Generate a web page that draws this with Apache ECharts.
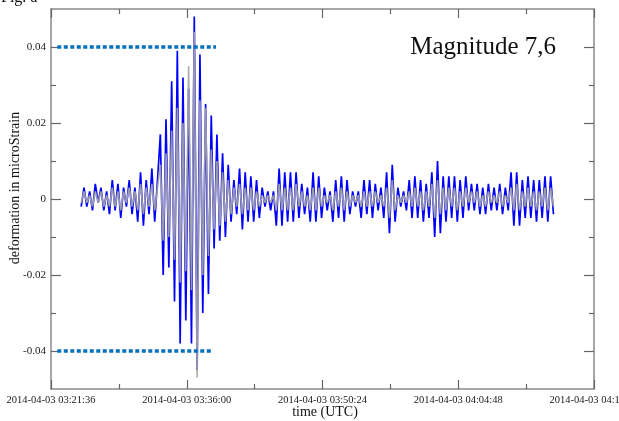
<!DOCTYPE html>
<html><head><meta charset="utf-8">
<script src="https://cdn.jsdelivr.net/npm/echarts@6/dist/echarts.min.js"></script>
<style>html,body{margin:0;padding:0;background:#fff}#c{width:619px;height:421px}</style>
</head><body><div id="c"></div>
<script>
// Time axis: seconds since 2014-04-03 03:21:36 UTC
const axisStartUTC = [2014, 3, 3, 3, 21, 36];
const axisSpanSeconds = 3456;
const tickStepSeconds = 864;
const sampleStartSeconds = 192;
const sampleStepSeconds = 18;

// deformation in microStrain
const blueStrain = [
 -0.002, 0.003, -0.002, 0.002, -0.003, 0.004, -0.001, 0.003, -0.003, 0.002,
 -0.004, 0.005, -0.003, 0.004, -0.005, 0.003, -0.002, 0.005, -0.004, 0.003,
 -0.006, 0.007, -0.007, 0.005, -0.004, 0.008, -0.006, 0.005,
 0.017, -0.020, 0.021, -0.018, 0.031, -0.027, 0.039, -0.038, 0.032, -0.032,
 0.029, -0.038, 0.048, -0.045, 0.038, -0.030, 0.025, -0.025, 0.022, -0.013,
 0.017, -0.011, 0.012, -0.010, 0.009, -0.006, 0.005, -0.004,
 0.008, -0.008, 0.007, -0.006, 0.006, -0.006, 0.005, -0.005,
 0.003, -0.002, 0.002, -0.003, 0.002,
 -0.007, 0.008, -0.007, 0.007,
 -0.006, 0.007, -0.006, 0.007, -0.005,
 0.004, -0.004, 0.003,
 -0.006, 0.007, -0.006, 0.006, -0.005,
 0.003, -0.003, 0.002,
 -0.006, 0.005, -0.005, 0.006, -0.006, 0.005, -0.004,
 0.002, -0.002, 0.002,
 -0.005, 0.005, -0.004, 0.005, -0.005, 0.004,
 -0.003, 0.003,
 -0.005, 0.007, -0.009, 0.009, -0.006,
 0.003, -0.002, 0.002, -0.003,
 0.005, -0.005, 0.006, -0.005, 0.005, -0.006, 0.004,
 -0.005, 0.007, -0.010, 0.010, -0.009,
 0.006, -0.006, 0.006, -0.005, 0.006, -0.006, 0.005, -0.005, 0.006,
 -0.003, 0.004, -0.003, 0.004, -0.004, 0.003, -0.004, 0.004, -0.003, 0.003,
 -0.003, 0.004, -0.004, 0.003, -0.003,
 0.007, -0.007, 0.007, -0.007,
 0.005, -0.005, 0.006, -0.005, 0.005, -0.006, 0.005,
 -0.005, 0.006, -0.006, 0.006, -0.004
];
const grayStrain = [
 -0.001, 0.002, -0.001, 0.001, -0.002, 0.002, -0.001, 0.002, -0.002, 0.001,
 -0.002, 0.003, -0.002, 0.002, -0.003, 0.002, -0.001, 0.003, -0.002, 0.002,
 -0.003, 0.004, -0.004, 0.003, -0.002, 0.004, -0.003, 0.003,
 0.009, -0.011, 0.012, -0.010, 0.018, -0.016, 0.024, -0.022, 0.020, -0.019,
 0.035, -0.024, 0.044, -0.047, 0.026, -0.020, 0.024, -0.015, 0.013, -0.008,
 0.010, -0.007, 0.007, -0.006, 0.005, -0.004, 0.003, -0.002,
 0.004, -0.004, 0.003, -0.003, 0.003, -0.003, 0.002, -0.002,
 0.001, -0.001, 0.001, -0.001, 0.001,
 -0.003, 0.004, -0.003, 0.003,
 -0.003, 0.003, -0.003, 0.004, -0.002,
 0.002, -0.002, 0.001,
 -0.003, 0.003, -0.003, 0.003, -0.002,
 0.001, -0.001, 0.001,
 -0.003, 0.002, -0.002, 0.003, -0.003, 0.002, -0.002,
 0.001, -0.001, 0.001,
 -0.002, 0.002, -0.002, 0.002, -0.002, 0.002,
 -0.001, 0.001,
 -0.002, 0.003, -0.005, 0.005, -0.003,
 0.001, -0.001, 0.001, -0.001,
 0.002, -0.002, 0.003, -0.002, 0.002, -0.003, 0.002,
 -0.002, 0.004, -0.005, 0.005, -0.004,
 0.003, -0.003, 0.003, -0.002, 0.003, -0.003, 0.002, -0.002, 0.003,
 -0.001, 0.002, -0.001, 0.002, -0.002, 0.001, -0.002, 0.002, -0.001, 0.001,
 -0.001, 0.002, -0.002, 0.001, -0.001,
 0.003, -0.003, 0.004, -0.003,
 0.002, -0.002, 0.003, -0.002, 0.002, -0.003, 0.002,
 -0.002, 0.003, -0.003, 0.003, -0.002
];

const yMajorTicks = [-0.04, -0.02, 0, 0.02, 0.04];
const yMinorTicks = [-0.03, -0.01, 0.01, 0.03];
const thresholdValues = [0.04, -0.04];
const thresholdSpans = [[40, 1050], [40, 1031]];
const annotationText = 'Magnitude 7,6';
const figureTag = 'Fig. a';
const yAxisTitle = 'deformation in microStrain';
const xAxisTitle = 'time (UTC)';

const serif = 'Liberation Serif';
const axisColor = '#8a8a8a';
const baseMs = Date.UTC(axisStartUTC[0], axisStartUTC[1], axisStartUTC[2], axisStartUTC[3], axisStartUTC[4], axisStartUTC[5]);
const pad = n => String(n).padStart(2, '0');
function fmtTime(v) {
  const d = new Date(baseMs + v * 1000);
  return d.getUTCFullYear() + '-' + pad(d.getUTCMonth() + 1) + '-' + pad(d.getUTCDate()) + ' ' +
    pad(d.getUTCHours()) + ':' + pad(d.getUTCMinutes()) + ':' + pad(d.getUTCSeconds());
}
const toSeries = arr => arr.map((v, i) => [sampleStartSeconds + i * sampleStepSeconds, v]);

const lineStyleAxis = { color: axisColor, width: 1.5 };
function xAx(pos, labels) {
  return {
    type: 'value', position: pos, min: 0, max: axisSpanSeconds, interval: tickStepSeconds,
    axisLine: { show: true, onZero: false, lineStyle: lineStyleAxis },
    axisTick: { show: true, inside: true, length: 9, lineStyle: { color: '#666', width: 1.2 } },
    minorTick: { show: true, splitNumber: 2, length: 5, lineStyle: { color: '#666', width: 1.2 } },
    splitLine: { show: false }, minorSplitLine: { show: false },
    axisLabel: labels ? { show: true, formatter: fmtTime, fontFamily: serif, fontSize: 10.5, color: '#1a1a1a', margin: 6, showMinLabel: true, showMaxLabel: true, hideOverlap: false } : { show: false }
  };
}
function yAx(pos, major, labels) {
  return {
    type: 'value', position: pos, min: -0.05, max: 0.05,
    axisLine: { show: major, onZero: false, lineStyle: lineStyleAxis },
    axisTick: { show: true, inside: true, length: major ? 10 : 5, customValues: major ? yMajorTicks : yMinorTicks, lineStyle: { color: '#666', width: 1.2 } },
    splitLine: { show: false },
    axisLabel: labels ? { show: true, customValues: yMajorTicks, formatter: v => v === 0 ? '0' : v.toFixed(2), fontFamily: serif, fontSize: 11, color: '#1a1a1a', margin: 5 } : { show: false }
  };
}

const chart = echarts.init(document.getElementById('c'), null, { renderer: 'canvas' });
chart.setOption({
  animation: false,
  backgroundColor: '#fff',
  grid: { left: 51, right: 25, top: 9, bottom: 32, containLabel: false, outerBoundsMode: 'none' },
  xAxis: [xAx('bottom', true), xAx('top', false)],
  yAxis: [yAx('left', true, true), yAx('left', false, false), yAx('right', true, false), yAx('right', false, false)],
  graphic: [
    { type: 'text', left: 1, top: -10, style: { text: figureTag, font: '16px "Liberation Serif"', fill: '#111' } },
    { type: 'text', right: 63, top: 35, style: { text: annotationText, font: '25px "Liberation Serif"', fill: '#111' } },
    { type: 'text', x: 15, y: 188, rotation: Math.PI / 2,
      style: { text: yAxisTitle, font: '14px "Liberation Serif"', fill: '#111', align: 'center', verticalAlign: 'middle' } },
    { type: 'text', x: 325, y: 412,
      style: { text: xAxisTitle, font: '14px "Liberation Serif"', fill: '#111', align: 'center', verticalAlign: 'middle' } }
  ],
  series: [
    { type: 'line', xAxisIndex: 0, yAxisIndex: 0, data: toSeries(blueStrain), showSymbol: false, symbol: 'none',
      lineStyle: { color: '#0000ff', width: 1.7 }, z: 2 },
    { type: 'line', xAxisIndex: 0, yAxisIndex: 0, data: toSeries(grayStrain), showSymbol: false, symbol: 'none',
      lineStyle: { color: '#a5a5a5', width: 1.6, opacity: 0.9 }, z: 3 },
    ...thresholdValues.map((t, k) => ({
      type: 'line', xAxisIndex: 0, yAxisIndex: 0, showSymbol: false, symbol: 'none',
      data: [[thresholdSpans[k][0], t], [thresholdSpans[k][1], t]],
      lineStyle: { color: '#0070c0', width: 3.5, type: [4, 2.5] }, z: 4
    }))
  ]
});
</script></body></html>
